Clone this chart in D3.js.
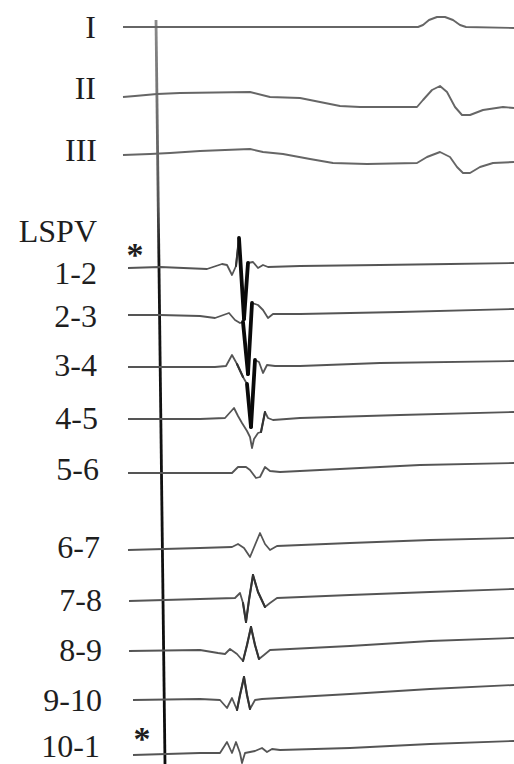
<!DOCTYPE html>
<html>
<head>
<meta charset="utf-8">
<script src="https://cdn.jsdelivr.net/npm/d3@7"></script>
<style>
  html, body { margin: 0; padding: 0; background: #fff; }
  svg { display: block; }
  text { font-family: "Liberation Serif", "DejaVu Serif", serif; fill: #1e1e1e; }
</style>
</head>
<body>
<svg id="chart" width="514" height="764"></svg>
<script>
// ---- Data: each trace is a list of [time (ms), amplitude (mV)] samples ----
const surfaceLeads = ["I", "II", "III"];
const bipoles = ["1-2", "2-3", "3-4", "4-5", "5-6", "6-7", "7-8", "8-9", "9-10", "10-1"];
const catheterName = "LSPV";
const starred = ["1-2", "10-1"];

const lead_I = [[0,0],[295,0],[300,0.1],[306,0.35],[314,0.5],[322,0.5],[330,0.35],[337,0.1],[343,0],[391,-0.05]];
const lead_II = [[0,0],[12,0.05],[34,0.15],[57,0.2],[127,0.25],[147,0],[177,-0.05],[197,-0.25],
  [217,-0.45],[237,-0.5],[294,-0.5],[300,-0.15],[309,0.35],[317,0.55],[324,0.25],[332,-0.5],
  [339,-0.9],[347,-0.9],[360,-0.65],[380,-0.5],[391,-0.55]];
const lead_III = [[0,0],[27,0.05],[47,0.1],[77,0.2],[127,0.3],[140,0.15],[160,0.05],[187,-0.2],
  [210,-0.4],[244,-0.45],[294,-0.4],[304,-0.1],[317,0.15],[327,-0.1],[334,-0.6],[340,-0.9],
  [347,-0.9],[357,-0.6],[370,-0.4],[391,-0.35]];

const pv_1_2 = [[5,-0.05],[37,0],[84,-0.1],[99,0.15],[104,0.1],[109,-0.4],[113,0.05],[116,1.45],
  [121,-2.6],[125,0.2],[130,0.25],[135,-0.05],[140,0.1],[145,0],[177,0.05],[257,0.1],
  [327,0.15],[391,0.2]];
const pv_2_3 = [[5,0],[37,0],[77,-0.05],[92,-0.15],[106,0.1],[112,-0.25],[117,-0.4],[120,-0.35],
  [125,-2.95],[129,0.6],[135,0.5],[140,0.25],[145,-0.15],[150,0.05],[177,0.05],
  [277,0.15],[391,0.3]];
const pv_3_4 = [[5,0],[57,0],[92,0],[103,0.05],[109,0.6],[114,0.15],[120,-0.5],[124,-0.85],
  [128,-3.0],[132,0.35],[136,0.25],[140,-0.3],[144,0.1],[152,0.05],[177,0.05],
  [257,0.2],[391,0.3]];
const pv_4_5 = [[5,0],[77,0],[102,0.05],[111,0.55],[115,0.15],[119,-0.2],[124,-0.6],[127,-0.9],
  [129,-1.45],[131,-1.0],[135,-0.7],[138,-0.65],[142,0.35],[145,0.05],[150,-0.05],[177,0.05],
  [277,0.2],[391,0.35]];
const pv_5_6 = [[5,0],[77,0],[109,0],[115,0.3],[123,0.3],[127,0.15],[133,-0.25],[137,-0.2],
  [142,0.3],[147,0.1],[157,0.05],[177,0.1],[297,0.4],[391,0.5]];
const pv_6_7 = [[5,0],[77,0.1],[109,0.15],[115,0.3],[121,0.1],[127,-0.35],[132,0.25],[137,0.85],
  [142,0.3],[147,0],[154,0.2],[227,0.35],[307,0.5],[391,0.6]];
const pv_7_8 = [[6,0],[77,0.1],[112,0.15],[117,0.4],[120,-0.1],[123,-1.05],[126,0.05],[130,1.3],
  [135,0.45],[142,-0.3],[147,-0.1],[154,0.15],[227,0.3],[307,0.45],[391,0.6]];
const pv_8_9 = [[6,0],[77,0.05],[95,-0.1],[102,-0.15],[107,0.1],[114,-0.15],[120,-0.5],[124,0.3],
  [128,1.2],[132,0.3],[136,-0.4],[141,-0.2],[147,0.05],[227,0.25],[307,0.5],[391,0.65]];
const pv_9_10 = [[10,0],[77,0.05],[97,0],[104,-0.4],[109,0.1],[114,-0.5],[117,0.25],[121,1.15],
  [124,0.25],[127,-0.45],[132,0],[139,0.05],[227,0.3],[307,0.55],[391,0.75]];
const pv_10_1 = [[10,0],[77,0.1],[97,0.1],[104,0.65],[109,0.1],[113,0.65],[117,0.1],[119,-0.4],
  [122,0.1],[132,0.2],[139,0.35],[144,0.15],[149,0.3],[157,0.25],[227,0.35],[307,0.55],[391,0.7]];

// timing marker: time where the vertical reference line meets the top and bottom of the sweep
const markerTimes = [33, 42];

const traces = {
  "I": lead_I, "II": lead_II, "III": lead_III,
  "1-2": pv_1_2, "2-3": pv_2_3, "3-4": pv_3_4, "4-5": pv_4_5, "5-6": pv_5_6,
  "6-7": pv_6_7, "7-8": pv_7_8, "8-9": pv_8_9, "9-10": pv_9_10, "10-1": pv_10_1
};

// ---- Layout ----
const W = 514, H = 764;
const rowLayout = {
  "I":    { base: 27,  label: 26.5, lx: 96 },
  "II":   { base: 97,  label: 88,   lx: 96 },
  "III":  { base: 155, label: 150,  lx: 97 },
  "1-2":  { base: 267, label: 273,  lx: 97 },
  "2-3":  { base: 315, label: 316,  lx: 97 },
  "3-4":  { base: 367, label: 365,  lx: 97 },
  "4-5":  { base: 419, label: 418,  lx: 98 },
  "5-6":  { base: 473, label: 469,  lx: 99 },
  "6-7":  { base: 550, label: 547,  lx: 100 },
  "7-8":  { base: 601, label: 600,  lx: 102 },
  "8-9":  { base: 651, label: 650,  lx: 102 },
  "9-10": { base: 700, label: 700,  lx: 102 },
  "10-1": { base: 755, label: 746,  lx: 100 }
};
const headerLayout = { label: 231, lx: 97 };
const starLayout = { "1-2": [135, 250], "10-1": [142, 734] };
const pxPerMv = 20;
const fontSize = 32;

const svg = d3.select("#chart");

const x = d3.scaleLinear().domain([0, 391]).range([123, 514]);
const rowScale = name => {
  const b = rowLayout[name].base;
  return d3.scaleLinear().domain([-1, 1]).range([b + pxPerMv, b - pxPerMv]);
};

// vertical timing marker, fading toward the top
const defs = svg.append("defs");
const grad = defs.append("linearGradient")
  .attr("id", "markerInk").attr("gradientUnits", "userSpaceOnUse")
  .attr("x1", 0).attr("y1", 20).attr("x2", 0).attr("y2", H);
grad.append("stop").attr("offset", "0%").attr("stop-color", "#8a8a8a");
grad.append("stop").attr("offset", "25%").attr("stop-color", "#555");
grad.append("stop").attr("offset", "32%").attr("stop-color", "#151515");
grad.append("stop").attr("offset", "100%").attr("stop-color", "#0c0c0c");

const markerY = d3.scaleLinear().domain([0, 1]).range([20, H]);
svg.append("line")
  .attr("x1", x(markerTimes[0])).attr("y1", markerY(0))
  .attr("x2", x(markerTimes[1])).attr("y2", markerY(1))
  .attr("stroke", "url(#markerInk)").attr("stroke-width", 2.8);

// traces: whole sweep in grey ink, fast deflections re-inked darker and heavier
const channels = surfaceLeads.concat(bipoles);
channels.forEach(name => {
  const y = rowScale(name);
  const line = d3.line().x(d => x(d[0])).y(d => y(d[1])).curve(d3.curveLinear);
  const isSurface = surfaceLeads.includes(name);
  const pts = traces[name];
  svg.append("path")
    .datum(pts)
    .attr("d", line)
    .attr("fill", "none")
    .attr("stroke", isSurface ? "#666" : "#555")
    .attr("stroke-width", isSurface ? 1.9 : 1.8)
    .attr("stroke-linejoin", "round");

  if (!isSurface) {
    const drop = ([a, b]) => Math.abs(y(b[1]) - y(a[1]));
    const steep = d3.pairs(pts).filter(s => drop(s) > 12);
    svg.append("g").selectAll("line").data(steep).join("line")
      .attr("x1", d => x(d[0][0])).attr("y1", d => y(d[0][1]))
      .attr("x2", d => x(d[1][0])).attr("y2", d => y(d[1][1]))
      .attr("stroke", d => drop(d) > 30 ? "#0a0a0a" : "#333")
      .attr("stroke-width", d => drop(d) > 30 ? 3.8 : 2.1)
      .attr("stroke-linecap", "round");
  }
});

// channel labels
const labels = svg.append("g").attr("font-size", fontSize);
channels.forEach(name => {
  labels.append("text")
    .attr("x", rowLayout[name].lx)
    .attr("y", rowLayout[name].label)
    .attr("text-anchor", "end")
    .attr("dominant-baseline", "central")
    .text(name);
});
labels.append("text")
  .attr("x", headerLayout.lx).attr("y", headerLayout.label)
  .attr("text-anchor", "end").attr("dominant-baseline", "central")
  .text(catheterName);

// asterisks on the marked bipoles
starred.forEach(name => {
  const p = starLayout[name];
  svg.append("text")
    .attr("x", p[0]).attr("y", p[1] + 0.47 * 34)
    .attr("font-size", 34)
    .attr("font-weight", "bold")
    .attr("text-anchor", "middle")
    .text("*");
});
</script>
</body>
</html>
